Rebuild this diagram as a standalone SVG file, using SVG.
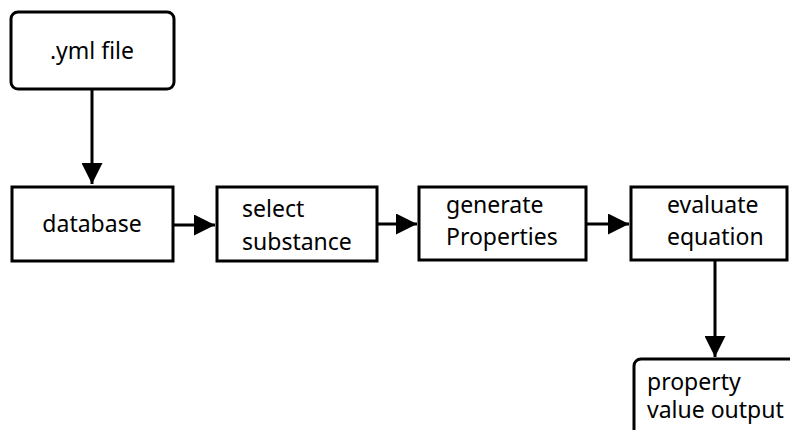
<svg xmlns="http://www.w3.org/2000/svg" width="790" height="430" viewBox="0 0 790 430">
<style>
.box{fill:#fff;stroke:#000;stroke-width:3}
.t{font-family:"Noto Sans",sans-serif;font-size:23px;fill:#000}
.c{stroke:#000;stroke-width:3;fill:none}
</style>
<defs>
<marker id="ah" markerWidth="7" markerHeight="7" refX="7" refY="3.5" orient="auto" markerUnits="strokeWidth">
<path d="M0,0 L7,3.5 L0,7 Z" fill="#000"/>
</marker>
</defs>
<rect width="790" height="430" fill="#fff"/>
<g id="connectors">
<line class="c" x1="92" y1="89" x2="92" y2="184" marker-end="url(#ah)"/>
<line class="c" x1="173" y1="225" x2="215" y2="225" marker-end="url(#ah)"/>
<line class="c" x1="377" y1="224" x2="417" y2="224" marker-end="url(#ah)"/>
<line class="c" x1="586" y1="224" x2="629" y2="224" marker-end="url(#ah)"/>
<line class="c" x1="715" y1="260" x2="715" y2="357" marker-end="url(#ah)"/>
</g>
<g id="yml">
<rect class="box" x="11" y="12" width="163" height="77" rx="7"/>
<text class="t" x="92" y="59" text-anchor="middle">.yml file</text>
</g>
<g id="database">
<rect class="box" x="12" y="187" width="161" height="74"/>
<text class="t" x="92" y="232" text-anchor="middle">database</text>
</g>
<g id="select">
<rect class="box" x="217" y="187" width="160" height="74"/>
<text class="t" x="242" y="217">select</text>
<text class="t" x="242" y="250">substance</text>
</g>
<g id="generate">
<rect class="box" x="419" y="187" width="167" height="73"/>
<text class="t" x="446" y="213">generate</text>
<text class="t" x="446" y="245">Properties</text>
</g>
<g id="evaluate">
<rect class="box" x="631" y="187" width="156" height="73"/>
<text class="t" x="667" y="213">evaluate</text>
<text class="t" x="667" y="245">equation</text>
</g>
<g id="output">
<rect class="box" x="634" y="359" width="170" height="90" rx="7"/>
<text class="t" x="647" y="390">property</text>
<text class="t" x="647" y="418">value output</text>
</g>
</svg>
